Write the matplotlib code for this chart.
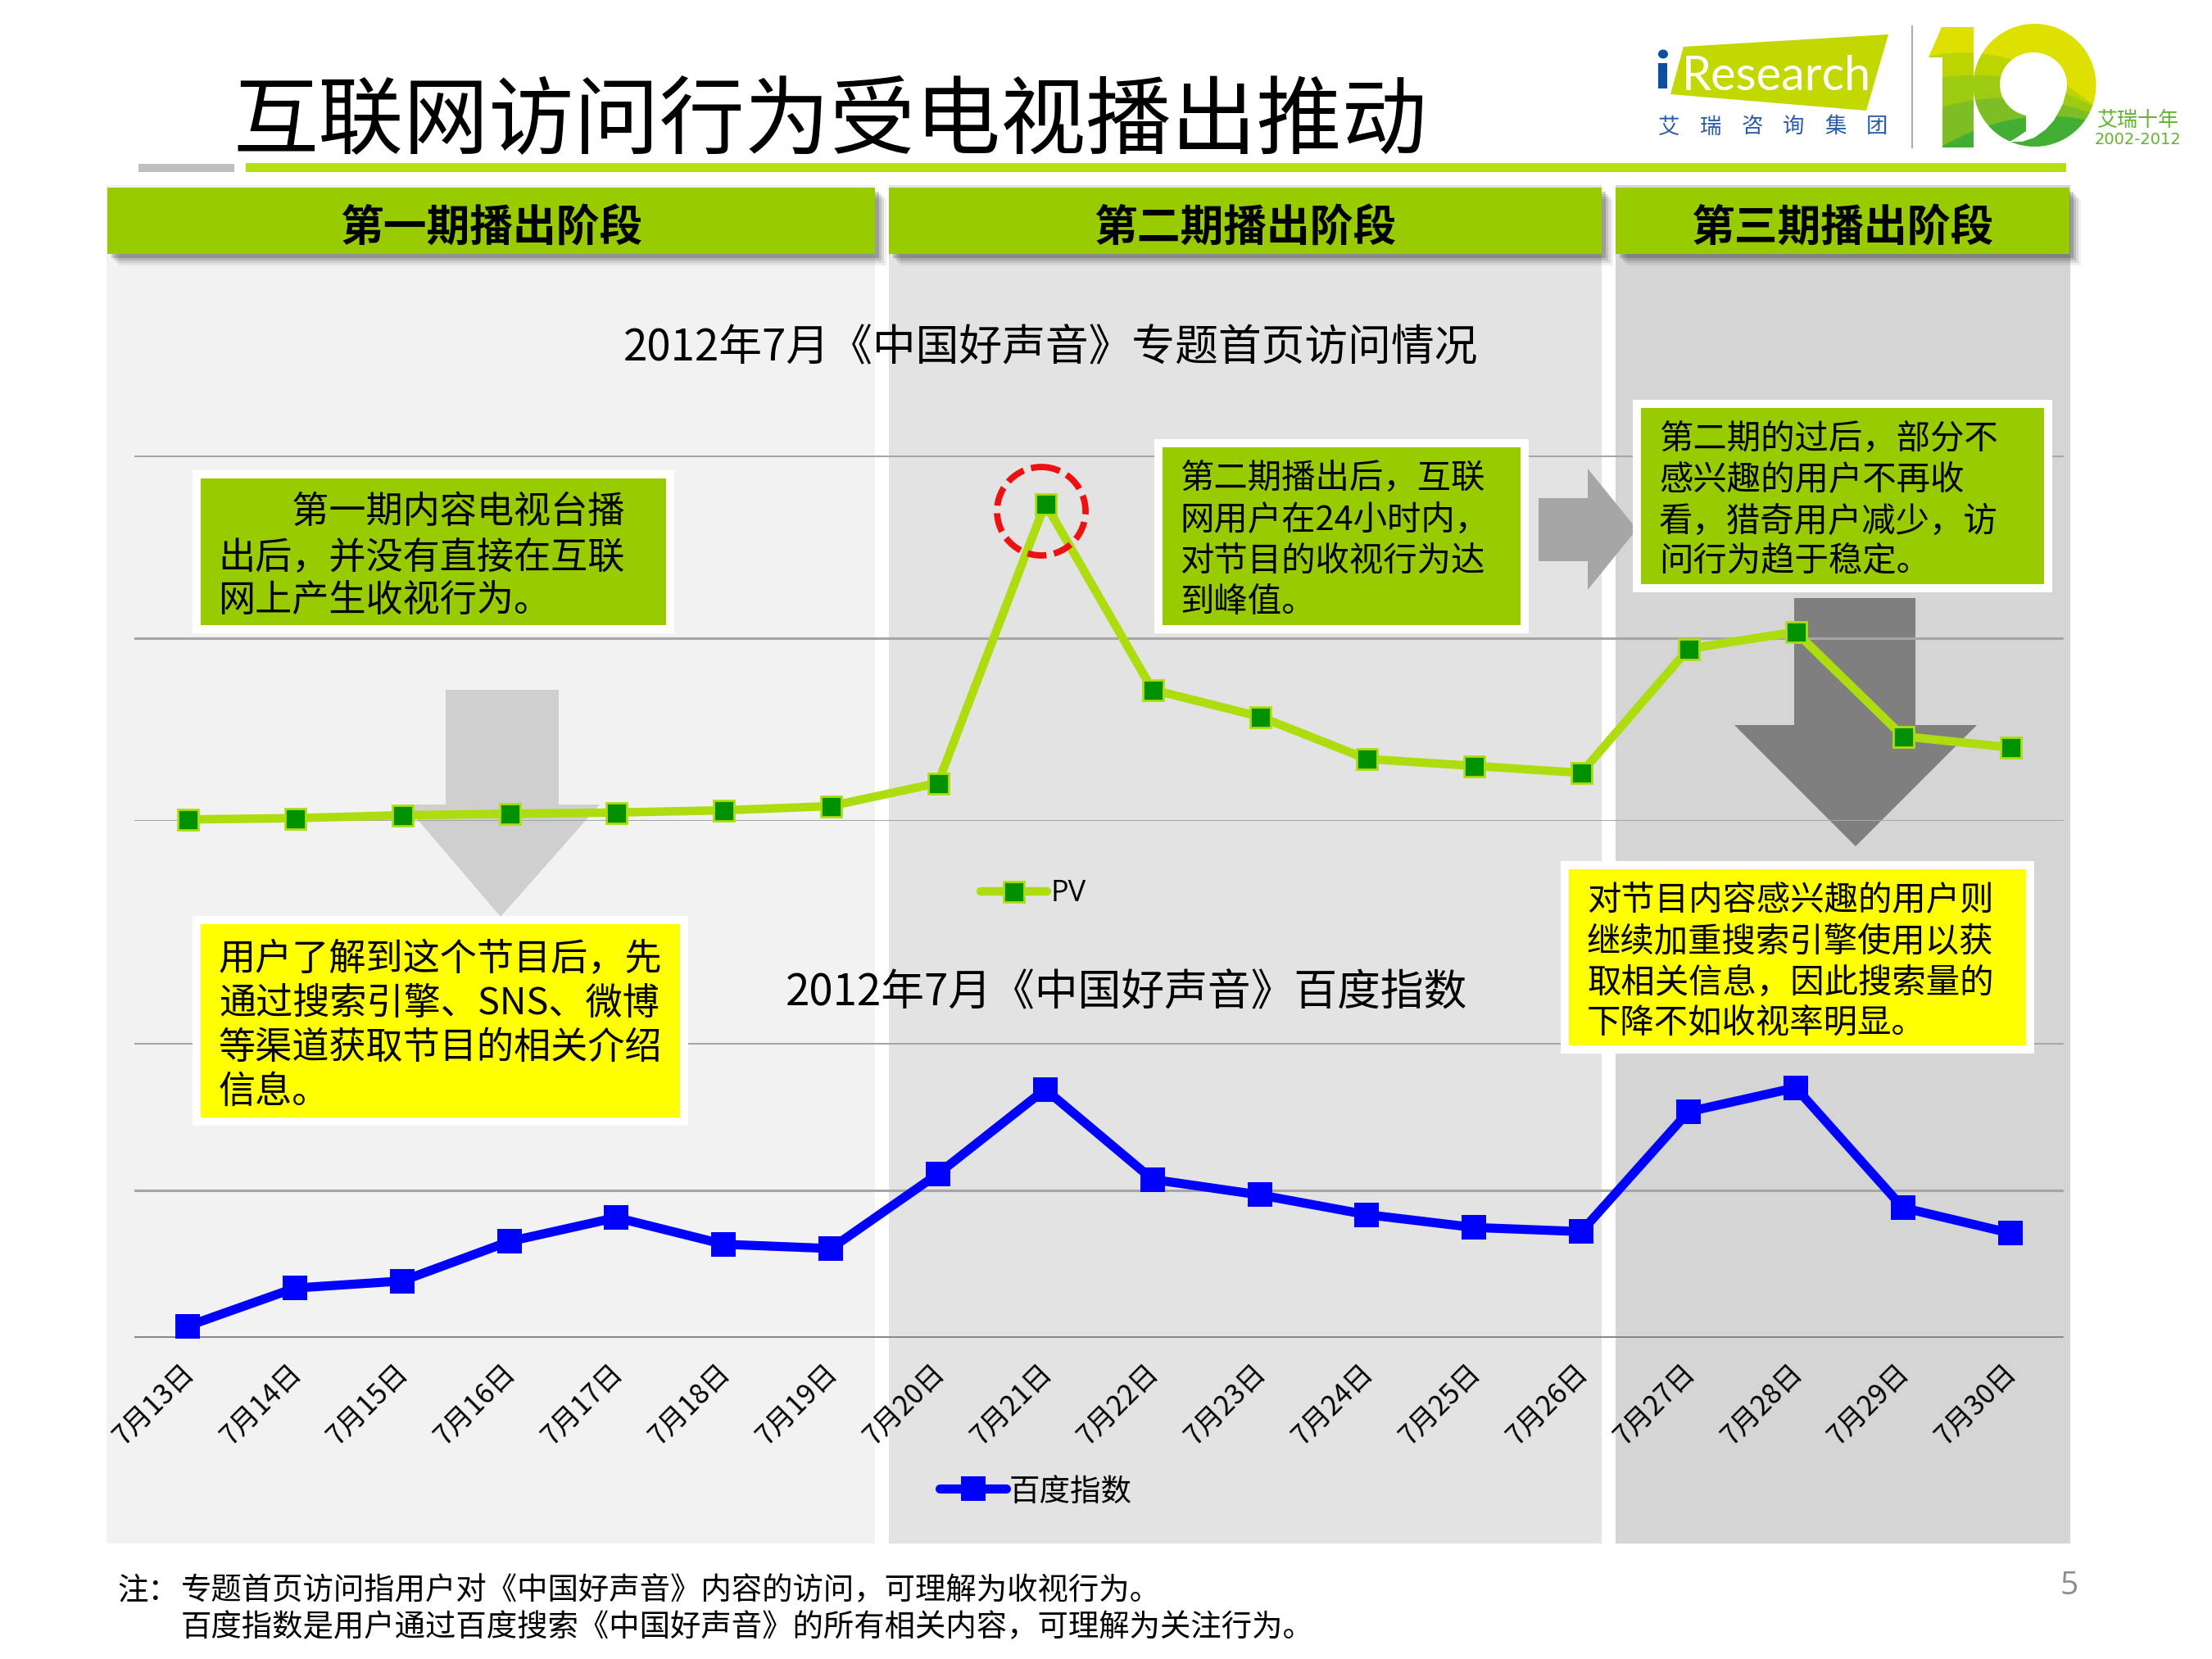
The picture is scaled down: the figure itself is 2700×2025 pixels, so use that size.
import numpy as np
import matplotlib
matplotlib.use("Agg")
import matplotlib.pyplot as plt
from matplotlib.patches import Rectangle, Polygon, Ellipse, PathPatch
from matplotlib.path import Path
from matplotlib.transforms import Affine2D, ScaledTranslation

plt.rcParams['font.family'] = ['Noto Sans CJK SC', 'DejaVu Sans']

dates = ['7月13日','7月14日','7月15日','7月16日','7月17日','7月18日','7月19日','7月20日','7月21日',
         '7月22日','7月23日','7月24日','7月25日','7月26日','7月27日','7月28日','7月29日','7月30日']
pv = [0.8,1.5,3.1,3.9,4.6,5.8,8.1,20.8,173.7,71.8,57.1,33.9,30.1,26.3,94.2,103.5,46.3,40.2]
baidu = [7.7,33.5,38.3,65.1,81.3,63.2,60.3,111,168.3,107.2,96.7,83.3,74.6,71.8,153.1,169.4,88,70.8]
grid_ticks = [0,100,200]

W, H = 2700, 2025
fig = plt.figure(figsize=(27, 20.25), dpi=100, facecolor='white')

def pxaxes(z):
    a = fig.add_axes([0,0,1,1], zorder=z)
    a.set_xlim(0,W); a.set_ylim(H,0); a.axis('off')
    a.patch.set_alpha(0)
    return a

def chart_axes(top, bottom, z=2):
    L, R = 163.6, 2519
    a = fig.add_axes([L/W, 1-bottom/H, (R-L)/W, (bottom-top)/H], zorder=z)
    a.patch.set_alpha(0)
    for s in a.spines.values(): s.set_visible(False)
    a.set_xlim(-0.5,17.5); a.set_ylim(0,200)
    a.set_yticks(grid_ticks); a.set_yticklabels([])
    a.tick_params(left=False, bottom=False)
    a.set_xticks(range(len(dates)))
    return a

bg = pxaxes(0)
# panels
for x0,x1,c in [(130,1068,'#F2F2F2'),(1085,1955,'#E3E3E3'),(1972,2527,'#D5D5D5')]:
    bg.add_patch(Rectangle((x0,226),x1-x0,1884-226,fc=c,ec='none'))
# arrows
bg.add_patch(Polygon([(544,842),(682,842),(682,982),(732,982),(611,1119),(494,982),(544,982)],fc='#CFCFCF',ec='none'))
bg.add_patch(Polygon([(1878,608),(1938,608),(1938,572),(1998,646),(1938,720),(1938,685),(1878,685)],fc='#A6A6A6',ec='none'))
bg.add_patch(Polygon([(2190,730),(2338,730),(2338,885),(2413,885),(2265,1033),(2117,885),(2190,885)],fc='#7F7F7F',ec='none'))

# headers
for (x0,x1,t) in [(131,1068,'第一期播出阶段'),(1085,1955,'第二期播出阶段'),(1972,2526,'第三期播出阶段')]:
    for d,al in [(14,0.06),(11,0.09),(8,0.12),(5,0.18)]:
        bg.add_patch(Rectangle((x0+d,229+d),x1-x0,81,fc='black',alpha=al,ec='none'))
    bg.add_patch(Rectangle((x0,229),x1-x0,81,fc='#99CC00',ec='none'))
    bg.text((x0+x1)/2,279,t,fontsize=38,fontweight='bold',ha='center',va='center',color='black')

# title and rules
bg.text(285,151,'互联网访问行为受电视播出推动',fontsize=75,ha='left',va='center',color='black')
bg.add_patch(Rectangle((169,200),117,10,fc='#BFBFBF',ec='none'))
bg.add_patch(Rectangle((300,199),2222,11,fc='#B3DE0F',ec='none'))

# logo
bg.add_patch(Polygon([(2055,57),(2305,42),(2278,135),(2039,115)],fc='#C3D800',ec='none'))
bg.text(2053,93,'Research',fontsize=41.5,family='Lato',color='white',ha='left',va='center')
bg.add_patch(Rectangle((2024,77),11,31,fc='#0B4EA2',ec='none'))
bg.add_patch(Ellipse((2030,66),12,11,fc='#0B4EA2',ec='none'))
for x,ch in zip([2037,2088,2138.5,2189,2240,2291],'艾瑞咨询集团'):
    bg.text(x,155,ch,fontsize=19,color='#2B5CA8',ha='center',va='center')
bg.plot([2334,2334],[32,180],color='#B0B0B0',lw=1.6)
# ten-year mark: banded fill clipped to the shape of "1" and a disc
zx, zy = np.meshgrid(np.arange(0,720), np.arange(0,510))
bands = np.zeros(zx.shape, dtype=int)
bands += zy > 132+0.00085*(zx-170)**2
bands += zy > 215+0.0006*(zx-210)**2
bands += zy > 298+0.0006*(zx-330)**2
bands += zy > 365+0.00073*(zx-480)**2
palette = np.array([[0xDD,0xE0,0x00],[0xBC,0xD5,0x00],[0x9C,0xCB,0x12],[0x7D,0xBE,0x25],[0x42,0xAE,0x33]],dtype=np.uint8)
rgb = palette[bands]
one = Path([(2370,33),(2409,33),(2409,180),(2371,180),(2371,70),(2354,70),(2370,33)])
disc = Path.unit_circle().transformed(Affine2D().scale(75,75).translate(2483.5,104))
for clip in (one, disc):
    im = bg.imshow(rgb,extent=(2340,2580,190,20),aspect='auto',zorder=1,interpolation='bilinear')
    im.set_clip_path(PathPatch(clip,transform=bg.transData))
bg.set_xlim(0,W); bg.set_ylim(H,0)
bg.add_patch(Ellipse((2482,103),82,78,fc='white',ec='none',zorder=1.5))
bg.add_patch(Polygon([(2473,143),(2473,160),(2463,167),(2453,173),(2468,173),(2483,168),(2497,158),(2507,147),(2518,127),(2523,107),(2482,103)],
                     fc='white',ec='none',zorder=1.5))
bg.text(2610,147,'艾瑞十年',fontsize=18,color='#63B32E',ha='center',va='center')
bg.text(2610,170,'2002-2012',fontsize=14,color='#63B32E',ha='center',va='center',family='DejaVu Sans')

# charts
GRID = dict(color='#A6A6A6', lw=2.2)
ax1 = chart_axes(556,1002)
ax1.set_xticklabels([])
ax1.yaxis.grid(True, **GRID); ax1.set_axisbelow(True)
ax1.plot(range(len(dates)),pv,color='#AEDD0F',lw=7.5,marker='s',ms=18,mfc='#009100',mec='#AEDD0F',mew=2,
         solid_joinstyle='miter',clip_on=False)
ax2 = chart_axes(1272.6,1632.5)
ax2.yaxis.grid(True, **GRID); ax2.set_axisbelow(True)
ax2.get_ygridlines()[0].set_color('#868686'); ax2.get_ygridlines()[0].set_linewidth(2.8)
ax2.plot(range(len(dates)),baidu,color='#0000FF',lw=8,marker='s',ms=21,mfc='#0000FF',mec='#0000FF',mew=0,
         solid_joinstyle='miter',clip_on=False)
ax2.set_xticklabels(dates,rotation=45,ha='right',va='center',rotation_mode='anchor',fontsize=24.5,color='black')
ax2.tick_params(axis='x',pad=24)
shift = ScaledTranslation(3/100,0,fig.dpi_scale_trans)
for lab in ax2.get_xticklabels():
    lab.set_transform(lab.get_transform()+shift)

# overlay
ov = pxaxes(3)
ov.text(761,425,'2012年7月《中国好声音》专题首页访问情况',fontsize=38,ha='left',va='center',color='black')
ov.text(959,1212,'2012年7月《中国好声音》百度指数',fontsize=38,ha='left',va='center',color='black')

def box(x0,y0,x1,y1,fc,tx,lines,fs,ys):
    ov.add_patch(Rectangle((x0-10,y0-10),x1-x0+20,y1-y0+20,fc='white',ec='none'))
    ov.add_patch(Rectangle((x0,y0),x1-x0,y1-y0,fc=fc,ec='none'))
    for s,y in zip(lines,ys):
        ov.text(tx,y+3,s,fontsize=fs,ha='left',va='center',color='black')

box(245,584,813,763,'#99CC00',266,['　　第一期内容电视台播','出后，并没有直接在互联','网上产生收视行为。'],32.5,[622,677,730])
box(1419,546,1856,763,'#99CC00',1440,['第二期播出后，互联','网用户在24小时内，','对节目的收视行为达','到峰值。'],29.8,[582,632,682,732])
box(2003,498,2495,713,'#99CC00',2025,['第二期的过后，部分不','感兴趣的用户不再收','看，猎奇用户减少，访','问行为趋于稳定。'],29.8,[534,584,634,682])
box(245,1128,830,1364,'#FFFF00',267,['用户了解到这个节目后，先','通过搜索引擎、SNS、微博','等渠道获取节目的相关介绍','信息。'],32.5,[1168,1222,1276,1330])
box(1915,1061,2473,1276,'#FFFF00',1937,['对节目内容感兴趣的用户则','继续加重搜索引擎使用以获','取相关信息，因此搜索量的','下降不如收视率明显。'],29.8,[1097,1147,1197,1246])

ov.add_patch(Ellipse((1271,624),108,108,fc='none',ec='#EE1111',lw=5.6,ls=(0,(3,1.2))))

# legends
ov.plot([1197,1278],[1088,1088],color='#AEDD0F',lw=7.5,solid_capstyle='round',zorder=4)
ov.plot([1237],[1088],marker='s',ms=18,mfc='#009100',mec='#AEDD0F',mew=2,zorder=5)
ov.text(1282,1091,'PV',fontsize=26,ha='left',va='center',family='Open Sans')
ov.plot([1147,1228],[1817,1817],color='#0000FF',lw=8,solid_capstyle='round',zorder=4)
ov.plot([1188],[1817],marker='s',ms=21,mfc='#0000FF',mec='#0000FF',mew=0,zorder=5)
ov.text(1232,1821,'百度指数',fontsize=27,ha='left',va='center')

# footer
ov.text(143,1942,'注：',fontsize=27,ha='left',va='center')
ov.text(221,1942,'专题首页访问指用户对《中国好声音》内容的访问，可理解为收视行为。',fontsize=26.9,ha='left',va='center')
ov.text(221,1987,'百度指数是用户通过百度搜索《中国好声音》的所有相关内容，可理解为关注行为。',fontsize=26.9,ha='left',va='center')
ov.text(2526,1936,'5',fontsize=28,color='#8C8C8C',ha='center',va='center',family='Open Sans')

fig.savefig('out.png',dpi=100)
